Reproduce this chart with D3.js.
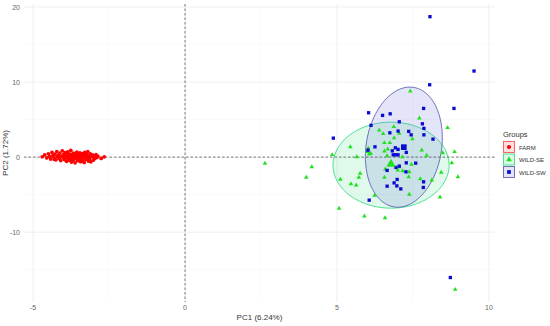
<!DOCTYPE html>
<html>
<head>
<meta charset="utf-8">
<script src="https://cdn.jsdelivr.net/npm/d3@7"></script>
<style>
  body { margin: 0; background: #fff; }
  text { font-family: "Liberation Sans", Arial, sans-serif; }
</style>
</head>
<body>
<div id="chart"></div>
<script>
// groups + legend
var groups = ["FARM", "WILD-SE", "WILD-SW"];
var colors = ["#ff0000", "#1fe21f", "#0a0ad0"];

// axis ticks
var xTicks = [-5, 0, 5, 10];
var yTicks = [-10, 0, 10, 20];
var xMinor = [-2.5, 2.5, 7.5];
var yMinor = [-15, -5, 5, 15];

// FARM scores (PC1, PC2)
var farm = [[-4.70,0.05],[-4.62,0.30],[-4.55,-0.10],[-4.50,0.45],[-4.46,0.10],[-4.42,-0.25],[-4.38,0.62],[-4.35,0.20],
  [-4.31,-0.05],[-4.28,0.40],[-4.25,-0.35],[-4.22,0.75],[-4.20,0.05],[-4.17,0.28],[-4.14,-0.18],[-4.12,0.55],
  [-4.09,-0.45],[-4.06,0.12],[-4.04,0.85],[-4.01,-0.08],[-3.99,0.38],[-3.97,-0.30],[-3.95,0.60],[-3.92,0.02],
  [-3.90,-0.55],[-3.88,0.22],[-3.86,0.70],[-3.84,-0.15],[-3.82,0.45],[-3.80,-0.40],[-3.78,0.10],[-3.76,0.90],
  [-3.74,-0.65],[-3.72,0.30],[-3.70,-0.05],[-3.68,0.55],[-3.66,-0.28],[-3.64,0.15],[-3.62,-0.75],[-3.60,0.42],
  [-3.58,-0.12],[-3.56,0.68],[-3.54,-0.48],[-3.52,0.05],[-3.50,0.32],[-3.48,-0.22],[-3.46,0.58],[-3.44,-0.60],
  [-3.42,0.18],[-3.40,-0.02],[-3.38,0.48],[-3.36,-0.38],[-3.34,0.25],[-3.32,-0.70],[-3.30,0.62],[-3.28,0.00],
  [-3.26,-0.30],[-3.24,0.40],[-3.22,-0.10],[-3.20,0.72],[-3.18,-0.52],[-3.16,0.15],[-3.14,-0.25],[-3.12,0.45],
  [-3.10,-0.62],[-3.08,0.08],[-3.05,0.30],[-3.02,-0.40],[-2.99,0.18],[-2.96,-0.15],[-2.93,0.35],[-2.90,-0.05],
  [-2.87,0.12],[-2.76,-0.18],[-2.66,0.04],[-4.00,0.15],[-3.85,-0.35],[-3.75,0.35],[-3.65,0.05],[-3.55,-0.05],
  [-3.45,0.10],[-3.35,0.05],[-3.25,0.20],[-3.95,-0.15],[-4.15,0.00],[-3.70,-0.45],[-3.50,-0.35],[-3.60,0.20],
  [-3.40,-0.50],[-3.88,0.50],[-4.30,-0.30],[-3.15,-0.05],[-3.00,0.00]];

// WILD-SE scores
var wildSE = [[7.41,8.80],[7.71,5.20],[8.64,3.91],[6.87,4.04],[6.39,3.60],[6.52,3.11],[6.88,2.57],[7.05,3.16],
  [7.48,2.44],[5.44,1.37],[6.56,1.91],[6.74,1.91],[6.67,1.07],[6.56,0.80],[7.79,0.93],[8.48,0.57],
  [8.87,0.71],[6.00,0.71],[6.11,0.49],[4.84,0.31],[5.65,0.04],[6.65,0.17],[7.15,0.04],[7.95,0.23],
  [2.63,-0.84],[4.17,-1.29],[3.99,-2.71],[7.45,-0.97],[7.05,-1.29],[7.00,-1.73],[6.59,-1.60],[7.38,-1.96],
  [8.78,-0.76],[8.43,-2.04],[5.76,-2.17],[5.72,-2.71],[5.11,-2.97],[6.56,-2.71],[7.36,-2.63],[7.74,-2.89],
  [8.12,-3.07],[8.98,-2.63],[5.46,-3.56],[5.63,-3.73],[6.24,-5.11],[7.38,-4.97],[8.39,-5.33],[5.07,-6.84],
  [5.90,-7.87],[6.58,-8.09],[8.89,-17.64],[6.06,0.40],[7.16,-1.83],[6.74,-0.84],[6.03,1.16]];

// WILD-SW scores
var wildSW = [[8.06,18.71],[9.51,11.47],[8.05,9.64],[6.04,5.91],[6.50,5.56],[6.75,5.77],[7.85,6.49],[8.85,6.49],
  [7.05,4.71],[6.12,4.23],[7.86,3.83],[6.74,3.24],[7.01,3.47],[7.36,3.43],[7.44,2.97],[7.86,2.97],
  [7.81,4.44],[4.88,2.53],[8.16,2.40],[6.25,1.37],[6.92,1.24],[6.82,0.84],[7.01,1.03],[7.28,0.63],
  [6.02,0.93],[6.85,0.31],[6.93,0.31],[7.01,0.31],[7.28,-0.76],[7.59,-0.80],[6.65,-1.77],[7.27,-1.96],
  [6.98,-2.97],[6.88,-3.43],[7.85,-3.29],[6.65,-3.87],[6.97,-3.83],[7.10,-4.23],[7.84,-4.04],[6.06,-5.73],
  [8.73,-16.04],[7.05,-1.20],[6.94,-1.37]];

// group centroids
var centroids = [[-3.75, 0.0], [6.78, -0.93], [7.20, 1.33]];

// confidence ellipses: centre, half-axis vectors u and v (PC units)
var ellCentre = [[6.78, -1.07], [7.20, 1.33]];
var ellU = [[0, 5.73], [0.20, 8.0]];
var ellV = [[1.91, 0], [1.25, 0]];
var ellStroke = ["#3ddc8c", "#6262b4"];
var ellFill = ["rgba(80,225,140,0.18)", "rgba(110,110,230,0.18)"];

var width = 550, height = 326;
var svg = d3.select("#chart").append("svg")
    .attr("width", width)
    .attr("height", height);

var x = d3.scaleLinear().domain([-5.3, 10.2]).range([24, 495]);
var y = d3.scaleLinear().domain([-19.3, 20.4]).range([302, 4]);

// grid
var grid = svg.append("g");
grid.selectAll(".xminor").data(xMinor).enter().append("line")
    .attr("x1", d => x(d)).attr("x2", d => x(d)).attr("y1", 4).attr("y2", 302)
    .attr("stroke", "#f4f4f4").attr("stroke-width", 0.5);
grid.selectAll(".yminor").data(yMinor).enter().append("line")
    .attr("y1", d => y(d)).attr("y2", d => y(d)).attr("x1", 24).attr("x2", 495)
    .attr("stroke", "#f4f4f4").attr("stroke-width", 0.5);
grid.selectAll(".xmajor").data(xTicks).enter().append("line")
    .attr("x1", d => x(d)).attr("x2", d => x(d)).attr("y1", 4).attr("y2", 302)
    .attr("stroke", "#ebebeb").attr("stroke-width", 0.8);
grid.selectAll(".ymajor").data(yTicks).enter().append("line")
    .attr("y1", d => y(d)).attr("y2", d => y(d)).attr("x1", 24).attr("x2", 495)
    .attr("stroke", "#ebebeb").attr("stroke-width", 0.8);

// tick labels
svg.selectAll(".xt").data(xTicks).enter().append("text")
    .attr("x", d => x(d)).attr("y", 310)
    .attr("text-anchor", "middle").attr("font-size", 7).attr("fill", "#666")
    .text(d => d);
svg.selectAll(".yt").data(yTicks).enter().append("text")
    .attr("x", 20).attr("y", d => y(d) + 2.5)
    .attr("text-anchor", "end").attr("font-size", 7).attr("fill", "#666")
    .text(d => d);

// ellipses
var ts = d3.range(0, 2 * Math.PI + 0.01, Math.PI / 60);
ellCentre.forEach(function(c, i) {
    var pts = ts.map(function(t) {
        return [x(c[0] + Math.cos(t) * ellU[i][0] + Math.sin(t) * ellV[i][0]),
                y(c[1] + Math.cos(t) * ellU[i][1] + Math.sin(t) * ellV[i][1])];
    });
    svg.append("path")
        .attr("d", d3.line()(pts) + "Z")
        .attr("fill", ellFill[i])
        .attr("stroke", ellStroke[i])
        .attr("stroke-width", 0.9);
});

// reference lines
svg.append("line")
    .attr("x1", x(0)).attr("x2", x(0)).attr("y1", 4).attr("y2", 302)
    .attr("stroke", "#444").attr("stroke-width", 0.7).attr("stroke-dasharray", "2.5,2");
svg.append("line")
    .attr("x1", 24).attr("x2", 495).attr("y1", y(0)).attr("y2", y(0))
    .attr("stroke", "#444").attr("stroke-width", 0.7).attr("stroke-dasharray", "2.5,2");

// points
var shapes = [d3.symbolCircle, d3.symbolTriangle, d3.symbolSquare];
var sizes = [11, 9, 11];
var bigSizes = [30, 36, 32];
[farm, wildSE, wildSW].forEach(function(data, g) {
    svg.append("g").selectAll("path").data(data).enter().append("path")
        .attr("transform", d => "translate(" + x(d[0]) + "," + y(d[1]) + ")")
        .attr("d", d3.symbol().type(shapes[g]).size(sizes[g]))
        .attr("fill", colors[g]);
});
svg.append("g").selectAll("path").data(centroids).enter().append("path")
    .attr("transform", d => "translate(" + x(d[0]) + "," + y(d[1]) + ")")
    .attr("d", (d, i) => d3.symbol().type(shapes[i]).size(bigSizes[i])())
    .attr("fill", (d, i) => colors[i]);

// axis titles
svg.append("text")
    .attr("x", 259.5).attr("y", 320)
    .attr("text-anchor", "middle").attr("font-size", 8).attr("fill", "#333")
    .text("PC1 (6.24%)");
svg.append("text")
    .attr("transform", "translate(8,153) rotate(-90)")
    .attr("text-anchor", "middle").attr("font-size", 8).attr("fill", "#333")
    .text("PC2 (1.72%)");

// legend
var keyFill = ["rgba(255,0,0,0.12)", "rgba(80,225,140,0.2)", "rgba(110,110,230,0.18)"];
var keyStroke = ["#ff5555", "#3ddc8c", "#6262b4"];
var legend = svg.append("g");
legend.append("text")
    .attr("x", 503).attr("y", 137)
    .attr("font-size", 7.5).attr("fill", "#333")
    .text("Groups");
groups.forEach(function(name, i) {
    var ky = 141.5 + i * 12.5;
    legend.append("rect")
        .attr("x", 503.5).attr("y", ky).attr("width", 11).attr("height", 11)
        .attr("fill", keyFill[i]).attr("stroke", keyStroke[i]).attr("stroke-width", 0.9);
    legend.append("path")
        .attr("transform", "translate(509," + (ky + 5.5) + ")")
        .attr("d", d3.symbol().type(shapes[i]).size(14))
        .attr("fill", colors[i]);
    legend.append("text")
        .attr("x", 519).attr("y", ky + 8)
        .attr("font-size", 6).attr("fill", "#333")
        .text(name);
});
</script>
</body>
</html>
